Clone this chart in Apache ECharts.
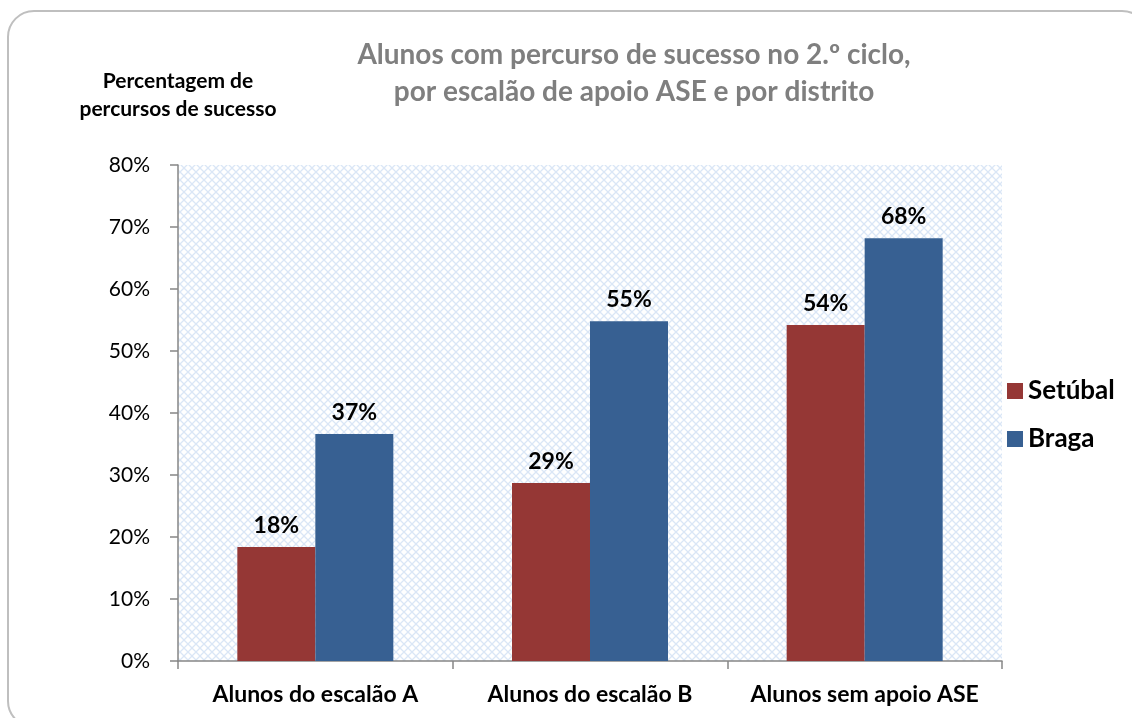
<!DOCTYPE html>
<html lang="pt">
<head>
<meta charset="utf-8">
<script src="https://cdn.jsdelivr.net/npm/echarts@6/dist/echarts.min.js"></script>
<style>
    html, body { margin: 0; padding: 0; background: #ffffff; }
    #chart { width: 1132px; height: 718px; }
</style>
</head>
<body>
<div id="chart"></div>
<script>
    // dados do gráfico
    var categorias = ['Alunos do escalão A', 'Alunos do escalão B', 'Alunos sem apoio ASE'];
    var setubal = [18.4, 28.7, 54.2];
    var braga = [36.6, 54.8, 68.2];
    var rotulosSetubal = ['18%', '29%', '54%'];
    var rotulosBraga = ['37%', '55%', '68%'];

    var fonte = 'Lato, "Open Sans", sans-serif';

    // padrão quadriculado diagonal do fundo da área do gráfico
    function criarPadrao() {
        var c = document.createElement('canvas');
        c.width = 8;
        c.height = 8;
        var ctx = c.getContext('2d');
        ctx.fillStyle = '#ffffff';
        ctx.fillRect(0, 0, 8, 8);
        ctx.strokeStyle = 'rgba(198, 217, 241, 0.65)';
        ctx.lineWidth = 1.3;
        ctx.beginPath();
        ctx.moveTo(0, 0); ctx.lineTo(8, 8);
        ctx.moveTo(8, 0); ctx.lineTo(0, 8);
        ctx.stroke();
        return c;
    }

    var chart = echarts.init(document.getElementById('chart'));

    function rotulo(lista) {
        return {
            show: true,
            position: 'top',
            distance: 10,
            color: '#000000',
            fontFamily: fonte,
            fontWeight: 'bold',
            fontSize: 23,
            formatter: function (p) { return lista[p.dataIndex]; }
        };
    }

    var option = {
        animation: false,
        backgroundColor: '#ffffff',
        graphic: [{
            type: 'rect',
            shape: { x: 8, y: 11, width: 1140, height: 716, r: 26 },
            style: { fill: 'none', stroke: '#bfbfbf', lineWidth: 2 },
            silent: true,
            z: -1
        }],
        title: {
            text: 'Alunos com percurso de sucesso no 2.º ciclo,\npor escalão de apoio ASE e por distrito',
            left: 629,
            top: 31,
            textAlign: 'center',
            textStyle: {
                color: '#7f7f7f',
                fontFamily: fonte,
                fontWeight: 'bold',
                fontSize: 28,
                lineHeight: 37
            }
        },
        legend: {
            orient: 'vertical',
            left: 1002,
            top: 373,
            itemWidth: 16,
            itemHeight: 16,
            itemGap: 22,
            icon: 'rect',
            textStyle: {
                color: '#000000',
                fontFamily: fonte,
                fontWeight: 'bold',
                fontSize: 26
            },
            data: ['Setúbal', 'Braga']
        },
        grid: {
            left: 178,
            right: 130,
            top: 165,
            bottom: 57,
            show: true,
            borderWidth: 0,
            backgroundColor: { image: criarPadrao(), repeat: 'repeat' }
        },
        xAxis: {
            type: 'category',
            data: categorias,
            axisLine: { lineStyle: { color: '#868686', width: 1.5 } },
            axisTick: { show: true, length: 8, lineStyle: { color: '#868686', width: 1.5 } },
            axisLabel: {
                interval: 0,
                color: '#000000',
                fontFamily: fonte,
                fontWeight: 'bold',
                fontSize: 23,
                margin: 22
            }
        },
        yAxis: {
            type: 'value',
            min: 0,
            max: 80,
            interval: 10,
            name: 'Percentagem de\npercursos de sucesso',
            nameLocation: 'end',
            nameGap: 42,
            nameTextStyle: {
                color: '#000000',
                fontFamily: fonte,
                fontWeight: 'bold',
                fontSize: 21,
                lineHeight: 28,
                align: 'center',
                padding: [0, 0, 0, 0]
            },
            axisLine: { show: true, lineStyle: { color: '#868686', width: 1.5 } },
            axisTick: { show: true, length: 8, lineStyle: { color: '#868686', width: 1.5 } },
            splitLine: { show: false },
            axisLabel: {
                color: '#000000',
                fontFamily: fonte,
                fontSize: 21,
                margin: 28,
                formatter: '{value}%'
            }
        },
        series: [
            {
                name: 'Setúbal',
                type: 'bar',
                data: setubal,
                barWidth: 78,
                barGap: '0%',
                itemStyle: { color: '#953735' },
                label: rotulo(rotulosSetubal)
            },
            {
                name: 'Braga',
                type: 'bar',
                data: braga,
                barWidth: 78,
                barGap: '0%',
                itemStyle: { color: '#376092' },
                label: rotulo(rotulosBraga)
            }
        ]
    };

    chart.setOption(option);
</script>
</body>
</html>
